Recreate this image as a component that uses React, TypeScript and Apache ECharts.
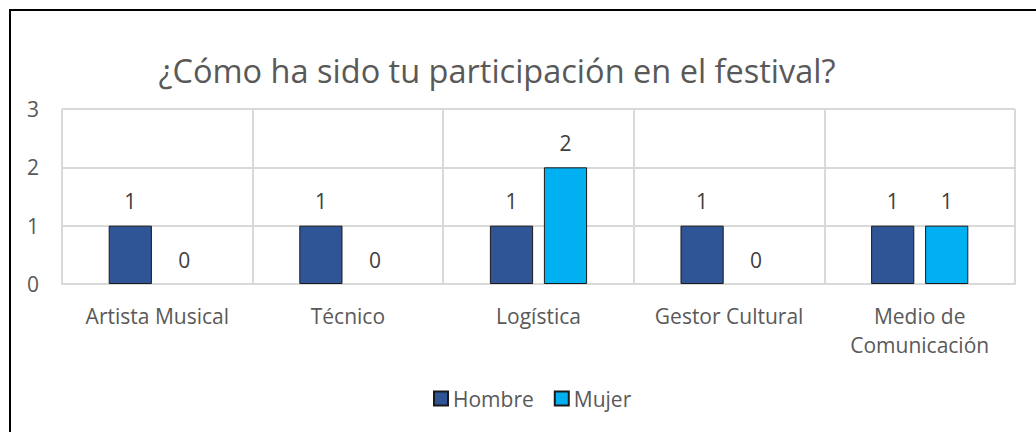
import React, { useEffect, useRef } from "react";
import * as echarts from "echarts";

const categories = ["Artista Musical", "Técnico", "Logística", "Gestor Cultural", "Medio de\nComunicación"];
const hombre = [1, 1, 1, 1, 1];
const mujer = [0, 0, 2, 0, 1];
const yTicks = { min: 0, max: 3, interval: 1 };
const titleText = "¿Cómo ha sido tu participación en el festival?";

const FONT = "'Open Sans', sans-serif";

const toItems = (vals: number[]) =>
  vals.map((v) => (v === 0 ? { value: v, itemStyle: { borderWidth: 0 } } : v));

export default function App() {
  const ref = useRef<HTMLDivElement>(null);
  useEffect(() => {
    if (!ref.current) return;
    const chart = echarts.init(ref.current, null, { renderer: "svg" });
    chart.setOption({
      animation: false,
      backgroundColor: "#ffffff",
      textStyle: { fontFamily: FONT },
      graphic: [
        {
          type: "rect",
          shape: { x: 10, y: 10, width: 1200, height: 600 },
          style: { fill: "none", stroke: "#000000", lineWidth: 2 },
          silent: true,
          z: 100,
        },
        {
          type: "text",
          x: 497,
          y: 70,
          style: {
            text: titleText,
            align: "center",
            verticalAlign: "middle",
            fontSize: 32.5,
            fontFamily: FONT,
            fill: "#595959",
          },
        },
      ],
      legend: {
        data: ["Hombre", "Mujer"],
        left: 433,
        top: 388,
        icon: "rect",
        itemWidth: 14,
        itemHeight: 14,
        itemGap: 20,
        textStyle: { fontSize: 21, color: "#595959", fontFamily: FONT },
        padding: 0,
      },
      grid: {
        left: 62,
        right: 21,
        top: 109,
        bottom: 148,
        containLabel: false,
        outerBoundsMode: "none",
      },
      xAxis: {
        type: "category",
        data: categories,
        axisTick: { show: false },
        axisLine: { lineStyle: { color: "#d9d9d9", width: 2 } },
        splitLine: { show: true, lineStyle: { color: "#d9d9d9", width: 2 } },
        axisLabel: {
          interval: 0,
          fontSize: 21,
          color: "#595959",
          fontFamily: FONT,
          margin: 17,
          lineHeight: 29,
        },
      },
      yAxis: {
        type: "value",
        min: yTicks.min,
        max: yTicks.max,
        interval: yTicks.interval,
        axisLine: { show: false },
        axisTick: { show: false },
        splitLine: { lineStyle: { color: "#d9d9d9", width: 2 } },
        axisLabel: { fontSize: 21, color: "#595959", fontFamily: FONT, margin: 23 },
      },
      series: [
        {
          name: "Hombre",
          type: "bar",
          data: toItems(hombre),
          barCategoryGap: "49%",
          barGap: "25%",
          itemStyle: { color: "#2F5597", borderColor: "#1a1a1a", borderWidth: 1 },
          label: { show: true, position: "top", distance: 14, fontSize: 21, color: "#404040", fontFamily: FONT },
        },
        {
          name: "Mujer",
          type: "bar",
          data: toItems(mujer),
          barCategoryGap: "49%",
          barGap: "25%",
          itemStyle: { color: "#00B0F0", borderColor: "#1a1a1a", borderWidth: 1 },
          label: { show: true, position: "top", distance: 14, fontSize: 21, color: "#404040", fontFamily: FONT },
        },
      ],
    });
    return () => chart.dispose();
  }, []);
  return (
    <div
      ref={ref}
      style={{ position: "fixed", left: 0, top: 0, width: 1036, height: 432 }}
    />
  );
}
